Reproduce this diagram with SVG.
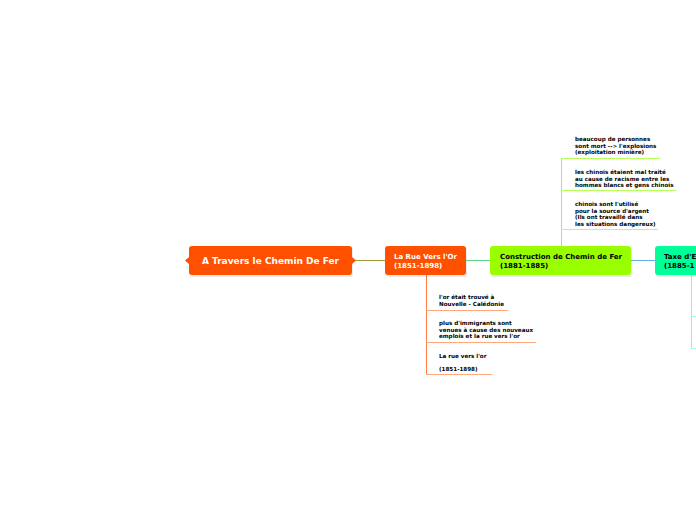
<svg xmlns="http://www.w3.org/2000/svg" width="696" height="520" viewBox="0 0 696 520">
<defs>
<style>
.node{stroke:none}
.orange{fill:#ff5000}
.lime{fill:#99ff00}
.mint{fill:#00ff99}
.shadow{fill:#000;opacity:0.08}
.t-root{font-family:"DejaVu Sans",Verdana,sans-serif;font-weight:bold;font-size:9px;fill:#fff}
.t-w{font-family:"DejaVu Sans",Verdana,sans-serif;font-weight:bold;font-size:7px;fill:#fff}
.t-b{font-family:"DejaVu Sans",Verdana,sans-serif;font-weight:bold;font-size:7px;fill:#000}
.t-s{font-family:"DejaVu Sans",Verdana,sans-serif;font-weight:bold;font-size:5.6px;fill:#000}
.c{fill:none;stroke-width:1}
</style>
</defs>
<rect width="696" height="520" fill="#fff"/>
<g id="connectors">
<line class="c" x1="352" y1="260.5" x2="385" y2="260.5" stroke="#a39a3c"/>
<line class="c" x1="466" y1="260.5" x2="490" y2="260.5" stroke="#5fd68a"/>
<line class="c" x1="631" y1="260.5" x2="655" y2="260.5" stroke="#66aee6"/>
<line class="c" x1="561.5" y1="158" x2="561.5" y2="246" stroke="#99ff22"/>
<line class="c" x1="561" y1="158.5" x2="660" y2="158.5" stroke="#b8ff5c"/>
<line class="c" x1="561" y1="190.5" x2="676" y2="190.5" stroke="#b8ff5c"/>
<line class="c" x1="561" y1="229.5" x2="658" y2="229.5" stroke="#b8ff5c"/>
<line class="c" x1="426.5" y1="275" x2="426.5" y2="374" stroke="#ff7a40"/>
<line class="c" x1="426" y1="310.5" x2="508" y2="310.5" stroke="#ffa880"/>
<line class="c" x1="426" y1="342.5" x2="536" y2="342.5" stroke="#ffa880"/>
<line class="c" x1="426" y1="374.5" x2="492" y2="374.5" stroke="#ffa880"/>
<line class="c" x1="691.5" y1="275" x2="691.5" y2="348" stroke="#80ffcc"/>
<line class="c" x1="691" y1="316.5" x2="696" y2="316.5" stroke="#a0ffd8"/>
<line class="c" x1="691" y1="348.5" x2="696" y2="348.5" stroke="#a0ffd8"/>
</g>
<g id="root">
<rect class="shadow" x="190" y="247" width="163" height="30" rx="3"/>
<rect class="node orange" x="189" y="246" width="163" height="29" rx="3"/>
<polygon class="orange" points="189,257 185,260.5 189,264"/>
<polygon class="orange" points="352,257 356,260.5 352,264"/>
<text class="t-root" x="270.5" y="264" text-anchor="middle">A Travers le Chemin De Fer</text>
</g>
<g id="rue">
<rect class="shadow" x="386" y="247" width="81" height="30" rx="3"/>
<rect class="node orange" x="385" y="246" width="81" height="29" rx="3"/>
<text class="t-w" x="394" y="259">La Rue Vers l'Or</text>
<text class="t-w" x="394" y="268">(1851-1898)</text>
</g>
<g id="construction">
<rect class="shadow" x="491" y="247" width="141" height="30" rx="3"/>
<rect class="node lime" x="490" y="246" width="141" height="29" rx="3"/>
<text class="t-b" x="500" y="259">Construction de Chemin de Fer</text>
<text class="t-b" x="500" y="268">(1881-1885)</text>
</g>
<g id="taxe">
<rect class="shadow" x="656" y="247" width="60" height="30" rx="3"/>
<rect class="node mint" x="655" y="246" width="60" height="29" rx="3"/>
<text class="t-b" x="664" y="259">Taxe d'E</text>
<text class="t-b" x="664" y="268">(1885-1</text>
</g>
<g id="c1">
<text class="t-s" x="575" y="141">beaucoup de personnes</text>
<text class="t-s" x="575" y="147.5">sont mort --&gt; l'explosions</text>
<text class="t-s" x="575" y="154">(exploitation minière)</text>
</g>
<g id="c2">
<text class="t-s" x="575" y="174">les chinois étaient mal traité</text>
<text class="t-s" x="575" y="180.5">au cause de racisme entre les</text>
<text class="t-s" x="575" y="187">hommes blancs et gens chinois</text>
</g>
<g id="c3">
<text class="t-s" x="575" y="206">chinois sont l'utilisé</text>
<text class="t-s" x="575" y="212.5">pour la source d'argent</text>
<text class="t-s" x="575" y="219">(Ils ont travaillé dans</text>
<text class="t-s" x="575" y="225.5">les situations dangereux)</text>
</g>
<g id="r1">
<text class="t-s" x="439" y="299">l'or était trouvé à</text>
<text class="t-s" x="439" y="305.5">Nouvelle - Calédonie</text>
</g>
<g id="r2">
<text class="t-s" x="439" y="325">plus d'immigrants sont</text>
<text class="t-s" x="439" y="331.5">venues à cause des nouveaux</text>
<text class="t-s" x="439" y="338">emplois et la rue vers l'or</text>
</g>
<g id="r3">
<text class="t-s" x="439" y="358">La rue vers l'or</text>
<text class="t-s" x="439" y="371">(1851-1898)</text>
</g>
</svg>
